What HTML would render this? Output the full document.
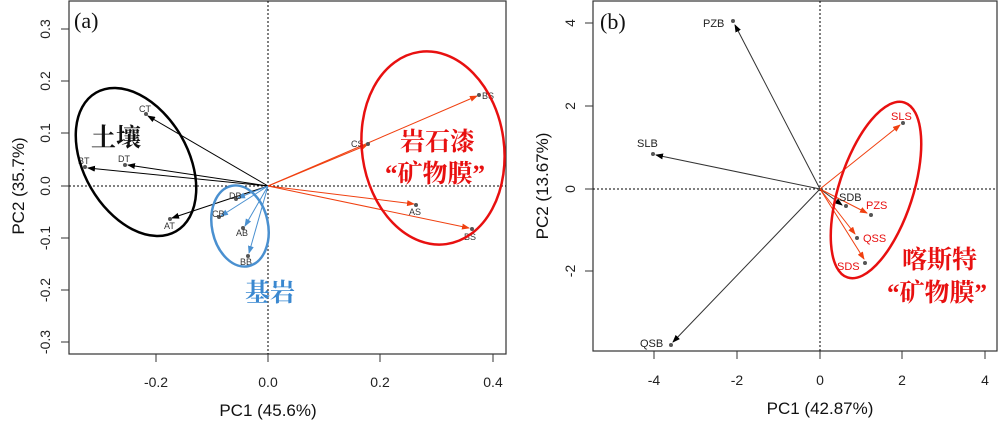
<!DOCTYPE html>
<html><head><meta charset="utf-8"><style>
html,body{margin:0;padding:0;background:#fff;}
svg{display:block;font-family:"Liberation Sans","Noto Sans CJK SC",sans-serif;}
.cn{font-family:"Liberation Serif","Noto Serif CJK SC","Noto Sans CJK SC",serif;}
</style></head><body>
<svg width="1000" height="421" viewBox="0 0 1000 421" xmlns="http://www.w3.org/2000/svg">
<defs>
<marker id="ak" markerWidth="8" markerHeight="6" refX="7" refY="3" orient="auto" markerUnits="userSpaceOnUse"><path d="M0,0 L8,3 L0,6 z" fill="#000"/></marker>
<marker id="ar" markerWidth="8" markerHeight="6" refX="7" refY="3" orient="auto" markerUnits="userSpaceOnUse"><path d="M0,0 L8,3 L0,6 z" fill="#f04010"/></marker>
<marker id="ab" markerWidth="8" markerHeight="6" refX="7" refY="3" orient="auto" markerUnits="userSpaceOnUse"><path d="M0,0 L8,3 L0,6 z" fill="#4a90d0"/></marker>
</defs>

<!-- Panel A -->
<rect x="69" y="1" width="437" height="353" fill="none" stroke="#333" stroke-width="1.2"/>
<line x1="268" y1="1" x2="268" y2="354" stroke="#000" stroke-dasharray="2,2"/>
<line x1="69" y1="186" x2="506" y2="186" stroke="#000" stroke-dasharray="2,2"/>
<g stroke="#333">
<line x1="156" y1="354" x2="156" y2="362"/><line x1="268" y1="354" x2="268" y2="362"/><line x1="380" y1="354" x2="380" y2="362"/><line x1="493" y1="354" x2="493" y2="362"/>
<line x1="61" y1="29" x2="69" y2="29"/><line x1="61" y1="81" x2="69" y2="81"/><line x1="61" y1="133" x2="69" y2="133"/><line x1="61" y1="186" x2="69" y2="186"/><line x1="61" y1="238" x2="69" y2="238"/><line x1="61" y1="290" x2="69" y2="290"/><line x1="61" y1="342" x2="69" y2="342"/>
</g>
<g font-size="14" fill="#222" text-anchor="middle">
<text x="156" y="387">-0.2</text><text x="268" y="387">0.0</text><text x="380" y="387">0.2</text><text x="493" y="387">0.4</text>
<text transform="translate(50,29) rotate(-90)">0.3</text>
<text transform="translate(50,81) rotate(-90)">0.2</text>
<text transform="translate(50,133) rotate(-90)">0.1</text>
<text transform="translate(50,186) rotate(-90)">0.0</text>
<text transform="translate(50,238) rotate(-90)">-0.1</text>
<text transform="translate(50,290) rotate(-90)">-0.2</text>
<text transform="translate(50,342) rotate(-90)">-0.3</text>
</g>
<text x="268" y="416" font-size="17" text-anchor="middle" fill="#111">PC1 (45.6%)</text>
<text transform="translate(24,186) rotate(-90)" font-size="17" text-anchor="middle" fill="#111">PC2 (35.7%)</text>
<text x="74" y="28" font-size="22" class="cn" fill="#111">(a)</text>

<g stroke="#000" stroke-width="1" marker-end="url(#ak)">
<line x1="268" y1="186" x2="148" y2="116"/>
<line x1="268" y1="186" x2="88" y2="168"/>
<line x1="268" y1="186" x2="128" y2="165"/>
<line x1="268" y1="186" x2="172" y2="218"/>
</g>
<g stroke="#4a90d0" stroke-width="1" marker-end="url(#ab)">
<line x1="268" y1="186" x2="238" y2="198"/>
<line x1="268" y1="186" x2="221" y2="216"/>
<line x1="268" y1="186" x2="245" y2="226"/>
<line x1="268" y1="186" x2="249" y2="253"/>
</g>
<g stroke="#f04010" stroke-width="1" marker-end="url(#ar)">
<line x1="268" y1="186" x2="367" y2="145"/>
<line x1="268" y1="186" x2="477" y2="96"/>
<line x1="268" y1="186" x2="414" y2="204"/>
<line x1="268" y1="186" x2="469" y2="228"/>
</g>
<g fill="#555">
<circle cx="146" cy="114" r="2"/><circle cx="85" cy="167" r="2"/><circle cx="125" cy="165" r="2"/><circle cx="170" cy="219" r="2"/>
<circle cx="236" cy="199" r="2"/><circle cx="219" cy="217" r="2"/><circle cx="243" cy="228" r="2"/><circle cx="248" cy="256" r="2"/>
<circle cx="368" cy="144" r="2"/><circle cx="479" cy="95" r="2"/><circle cx="416" cy="205" r="2"/><circle cx="472" cy="229" r="2"/>
</g>
<g font-size="9" fill="#333">
<text x="139" y="112">CT</text><text x="78" y="164">BT</text><text x="118" y="162">DT</text><text x="164" y="229">AT</text>
<text x="229" y="199">DB</text><text x="212" y="217">CB</text><text x="236" y="236">AB</text><text x="240" y="265">BB</text>
<text x="351" y="147">CS</text><text x="482" y="99">BS</text><text x="409" y="215">AS</text><text x="464" y="240">BS</text>
</g>
<ellipse cx="136" cy="162" rx="80" ry="52" transform="rotate(60 136 162)" fill="none" stroke="#000" stroke-width="2.5"/>
<ellipse cx="240" cy="226" rx="41" ry="28" transform="rotate(78 240 226)" fill="none" stroke="#4a90d0" stroke-width="2.5"/>
<ellipse cx="433" cy="148" rx="97" ry="71" transform="rotate(82 433 148)" fill="none" stroke="#e81010" stroke-width="2.5"/>
<text x="91" y="146" font-size="25" class="cn" fill="#111" font-weight="bold">土壤</text>
<text x="400" y="150" font-size="25" class="cn" fill="#e81010" font-weight="bold">岩石漆</text>
<text x="385" y="182" font-size="25" class="cn" fill="#e81010" font-weight="bold">“矿物膜”</text>
<text x="245" y="301" font-size="25" class="cn" fill="#3a88d0" font-weight="bold">基岩</text>

<!-- Panel B -->
<rect x="593" y="1" width="404" height="350" fill="none" stroke="#333" stroke-width="1.2"/>
<line x1="820" y1="1" x2="820" y2="351" stroke="#000" stroke-dasharray="2,2"/>
<line x1="593" y1="189" x2="997" y2="189" stroke="#000" stroke-dasharray="2,2"/>
<g stroke="#333">
<line x1="654" y1="351" x2="654" y2="359"/><line x1="737" y1="351" x2="737" y2="359"/><line x1="820" y1="351" x2="820" y2="359"/><line x1="902" y1="351" x2="902" y2="359"/><line x1="985" y1="351" x2="985" y2="359"/>
<line x1="585" y1="23" x2="593" y2="23"/><line x1="585" y1="106" x2="593" y2="106"/><line x1="585" y1="189" x2="593" y2="189"/><line x1="585" y1="271" x2="593" y2="271"/>
</g>
<g font-size="14" fill="#222" text-anchor="middle">
<text x="654" y="385">-4</text><text x="737" y="385">-2</text><text x="820" y="385">0</text><text x="902" y="385">2</text><text x="985" y="385">4</text>
<text transform="translate(575,23) rotate(-90)">4</text>
<text transform="translate(575,106) rotate(-90)">2</text>
<text transform="translate(575,189) rotate(-90)">0</text>
<text transform="translate(575,271) rotate(-90)">-2</text>
</g>
<text x="820" y="414" font-size="17" text-anchor="middle" fill="#111">PC1 (42.87%)</text>
<text transform="translate(548,186) rotate(-90)" font-size="17" text-anchor="middle" fill="#111">PC2 (13.67%)</text>
<text x="600" y="29" font-size="22" class="cn" fill="#111">(b)</text>

<g stroke="#333" stroke-width="1" marker-end="url(#ak)">
<line x1="820" y1="189" x2="735" y2="25"/>
<line x1="820" y1="189" x2="656" y2="155"/>
<line x1="820" y1="189" x2="673" y2="342"/>
<line x1="820" y1="189" x2="842" y2="205"/>
</g>
<g stroke="#f04010" stroke-width="1" marker-end="url(#ar)">
<line x1="820" y1="189" x2="900" y2="125"/>
<line x1="820" y1="189" x2="867" y2="213"/>
<line x1="820" y1="189" x2="855" y2="234"/>
<line x1="820" y1="189" x2="864" y2="259"/>
</g>
<g fill="#555">
<circle cx="733" cy="21" r="2"/><circle cx="653" cy="154" r="2"/><circle cx="671" cy="345" r="2"/><circle cx="846" cy="206" r="2"/>
<circle cx="903" cy="123" r="2"/><circle cx="871" cy="215" r="2"/><circle cx="857" cy="238" r="2"/><circle cx="865" cy="263" r="2"/>
</g>
<g font-size="11">
<text x="703" y="27" fill="#222">PZB</text><text x="637" y="147" fill="#222">SLB</text><text x="640" y="347" fill="#222">QSB</text><text x="839" y="201" fill="#222">SDB</text>
<text x="891" y="120" fill="#e81010">SLS</text><text x="866" y="209" fill="#e81010">PZS</text><text x="863" y="242" fill="#e81010">QSS</text><text x="837" y="270" fill="#e81010">SDS</text>
</g>
<ellipse cx="876" cy="190" rx="92" ry="37" transform="rotate(-72 876 190)" fill="none" stroke="#e81010" stroke-width="2.5"/>
<text x="902" y="268" font-size="25" class="cn" fill="#e81010" font-weight="bold">喀斯特</text>
<text x="887" y="301" font-size="25" class="cn" fill="#e81010" font-weight="bold">“矿物膜”</text>
</svg>
</body></html>
